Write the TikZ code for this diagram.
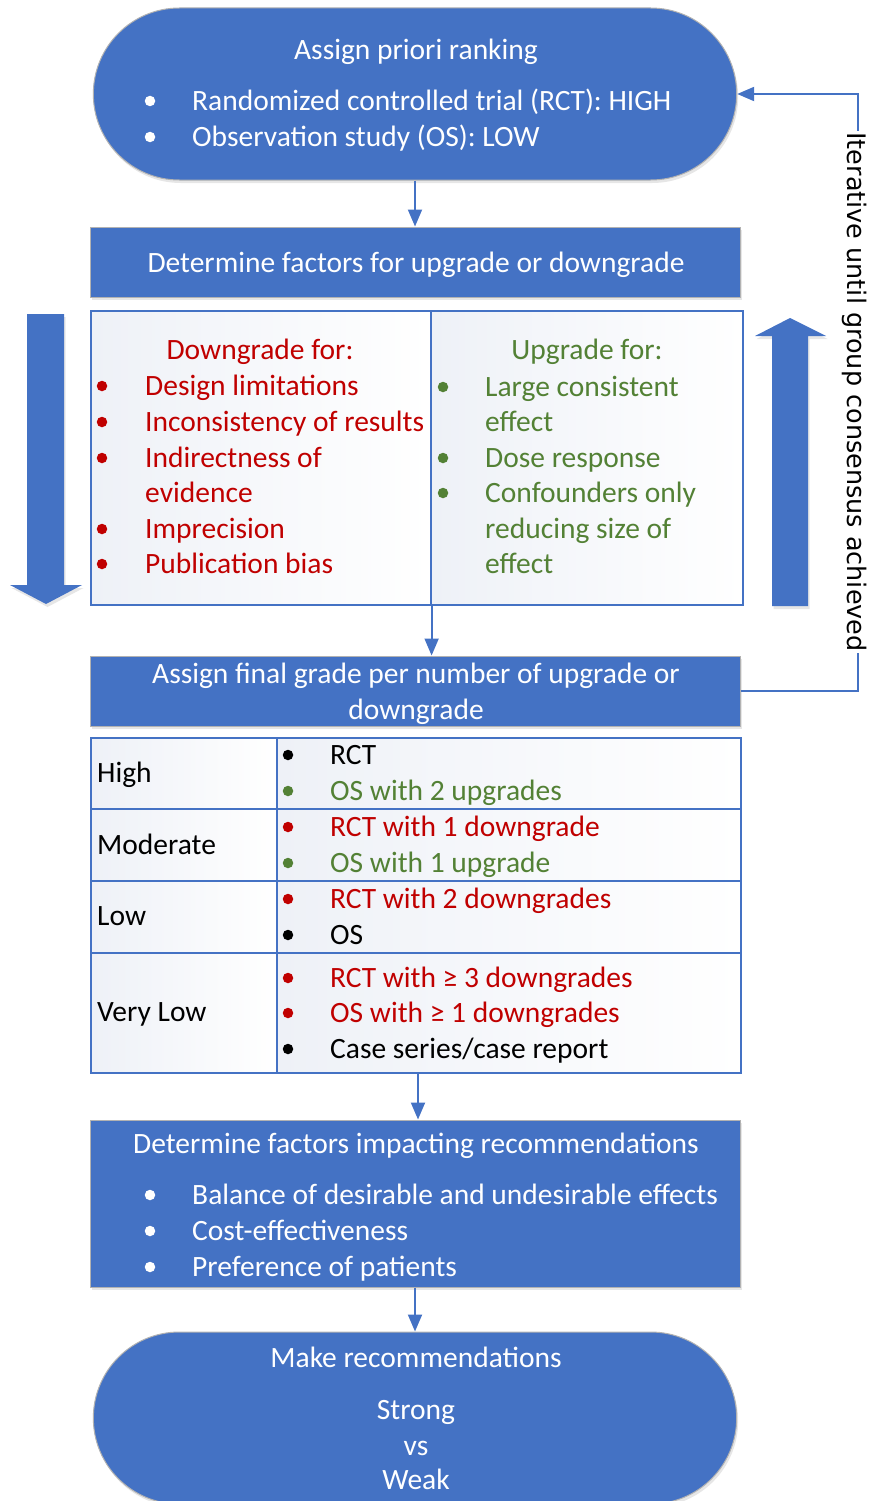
\documentclass[tikz,border=0pt]{standalone}
\usepackage{fontspec}
\setmainfont{Carlito}
\newfontfamily\vfont{DejaVu Sans}
\usetikzlibrary{shadows,arrows.meta,shapes.misc}
\definecolor{bblue}{HTML}{4472C4}
\definecolor{dred}{HTML}{C00000}
\definecolor{dgreen}{HTML}{538135}
\definecolor{cellgray}{RGB}{238,241,247}
\newcommand\bigf{\fontsize{29.5}{35}\selectfont}
\begin{document}
\begin{tikzpicture}[x=1pt,y=-1pt,
  bluebox/.style={draw=black!30, line width=1pt, fill=bblue,
    drop shadow={shadow xshift=1.5pt, shadow yshift=-3pt, opacity=0.2}},
  conn/.style={draw=bblue, line width=2pt, -{Triangle[length=17pt,width=14pt]}},
  cellbox/.style={draw=bblue, line width=1.6pt, left color=cellgray, right color=white},
  bul/.style={circle, fill=#1, inner sep=0pt, minimum size=10.5pt},
  txt/.style={anchor=mid west, inner sep=0pt, yshift=-7pt, font=\bigf, text=#1},
  ctxt/.style={anchor=mid, inner sep=0pt, yshift=-7pt, font=\bigf, text=#1},
  bigarrow/.style={fill=bblue, drop shadow={shadow xshift=1.5pt, shadow yshift=-3pt, opacity=0.2}}]
\useasboundingbox (0,0) rectangle (869,1501);

% ---------- top stadium ----------
\node[bluebox, rounded rectangle, minimum width=650pt, minimum height=172pt] (top) at (415,94) {};
\node[ctxt=white] (t0) at (416,50) {Assign priori ranking};
\node[bul=white] (tb1) at (150,101) {};
\node[txt=white] (t1) at (192,101) {Randomized controlled trial (RCT): HIGH};
\node[bul=white] (tb2) at (150,137) {};
\node[txt=white] (t2) at (192,137) {Observation study (OS): LOW};

% ---------- determine factors ----------
\node[bluebox, minimum width=650pt, minimum height=70pt] (det) at (415,262) {};
\node[ctxt=white] (d0) at (416,263) {Determine factors for upgrade or downgrade};

% ---------- up/down table ----------
\node[cellbox, minimum width=340pt, minimum height=294pt, anchor=north west] (down) at (90,310) {};
\node[cellbox, minimum width=312pt, minimum height=294pt, anchor=north west] (up) at (430,310) {};

\node[ctxt=dred] (dn0) at (260,350) {Downgrade for:};
\node[bul=dred] (dnb1) at (102,386) {};
\node[txt=dred] (dn1) at (145,386) {Design limitations};
\node[bul=dred] (dnb2) at (102,422) {};
\node[txt=dred] (dn2) at (145,422) {Inconsistency of results};
\node[bul=dred] (dnb3) at (102,458) {};
\node[txt=dred] (dn3) at (145,458) {Indirectness of};
\node[txt=dred] (dn3b) at (145,493) {evidence};
\node[bul=dred] (dnb4) at (102,529) {};
\node[txt=dred] (dn4) at (145,529) {Imprecision};
\node[bul=dred] (dnb5) at (102,564) {};
\node[txt=dred] (dn5) at (145,564) {Publication bias};

\node[ctxt=dgreen] (up0) at (587,350) {Upgrade for:};
\node[bul=dgreen] (upb1) at (443,387) {};
\node[txt=dgreen] (up1) at (485,387) {Large consistent};
\node[txt=dgreen] (up1b) at (485,422) {effect};
\node[bul=dgreen] (upb2) at (443,458) {};
\node[txt=dgreen] (up2) at (485,458) {Dose response};
\node[bul=dgreen] (upb3) at (443,493) {};
\node[txt=dgreen] (up3) at (485,493) {Confounders only};
\node[txt=dgreen] (up3b) at (485,529) {reducing size of};
\node[txt=dgreen] (up3c) at (485,564) {effect};

% big arrows
\path[bigarrow] (27,314) -- (64,314) -- (64,585) -- (82,585) -- (46,604) -- (10,585) -- (27,585) -- cycle;
\path[bigarrow] (772,606) -- (808,606) -- (808,336) -- (826,336) -- (790,318) -- (755,336) -- (772,336) -- cycle;

% ---------- final grade ----------
\node[bluebox, minimum width=650pt, minimum height=70pt] (fin) at (415,691) {};
\node[ctxt=white] (f1) at (416,674) {Assign final grade per number of upgrade or};
\node[ctxt=white] (f2) at (416,710) {downgrade};

% ---------- grade table ----------
\node[cellbox, minimum width=186pt, minimum height=71pt, anchor=north west] (hL) at (90,737) {};
\node[cellbox, minimum width=464pt, minimum height=71pt, anchor=north west] (hR) at (276,737) {};
\node[cellbox, minimum width=186pt, minimum height=72pt, anchor=north west] (mL) at (90,808) {};
\node[cellbox, minimum width=464pt, minimum height=72pt, anchor=north west] (mR) at (276,808) {};
\node[cellbox, minimum width=186pt, minimum height=72pt, anchor=north west] (lL) at (90,880) {};
\node[cellbox, minimum width=464pt, minimum height=72pt, anchor=north west] (lR) at (276,880) {};
\node[cellbox, minimum width=186pt, minimum height=120pt, anchor=north west] (vL) at (90,952) {};
\node[cellbox, minimum width=464pt, minimum height=120pt, anchor=north west] (vR) at (276,952) {};

\node[txt=black] (gh) at (97,773) {High};
\node[txt=black] (gm) at (97,845) {Moderate};
\node[txt=black] (gl) at (97,916) {Low};
\node[txt=black] (gv) at (97,1012) {Very Low};

\node[bul=black] (hb1) at (288,755) {};
\node[txt=black] (h1) at (330,755) {RCT};
\node[bul=dgreen] (hb2) at (288,791) {};
\node[txt=dgreen] (h2) at (330,791) {OS with 2 upgrades};
\node[bul=dred] (mb1) at (288,827) {};
\node[txt=dred] (m1) at (330,827) {RCT with 1 downgrade};
\node[bul=dgreen] (mb2) at (288,863) {};
\node[txt=dgreen] (m2) at (330,863) {OS with 1 upgrade};
\node[bul=dred] (lb1) at (288,899) {};
\node[txt=dred] (l1) at (330,899) {RCT with 2 downgrades};
\node[bul=black] (lb2) at (288,935) {};
\node[txt=black] (l2) at (330,935) {OS};
\node[bul=dred] (vb1) at (288,978) {};
\node[txt=dred] (v1) at (330,978) {RCT with ≥ 3 downgrades};
\node[bul=dred] (vb2) at (288,1013) {};
\node[txt=dred] (v2) at (330,1013) {OS with ≥ 1 downgrades};
\node[bul=black] (vb3) at (288,1049) {};
\node[txt=black] (v3) at (330,1049) {Case series/case report};

% ---------- impacting recommendations ----------
\node[bluebox, minimum width=650pt, minimum height=167pt] (imp) at (415,1203.5) {};
\node[ctxt=white] (i0) at (416,1144) {Determine factors impacting recommendations};
\node[bul=white] (ib1) at (150,1195) {};
\node[txt=white] (i1) at (192,1195) {Balance of desirable and undesirable effects};
\node[bul=white] (ib2) at (150,1231) {};
\node[txt=white] (i2) at (192,1231) {Cost-effectiveness};
\node[bul=white] (ib3) at (150,1267) {};
\node[txt=white] (i3) at (192,1267) {Preference of patients};

% ---------- bottom stadium ----------
\node[bluebox, rounded rectangle, minimum width=650pt, minimum height=172pt] (rec) at (415,1418) {};
\node[ctxt=white] (r0) at (416,1358) {Make recommendations};
\node[ctxt=white] (r1) at (416,1410) {Strong};
\node[ctxt=white] (r2) at (416,1446) {vs};
\node[ctxt=white] (r3) at (416,1480) {Weak};

% ---------- connectors ----------
\draw[conn] (top.south) -- (det.north);
\draw[conn] (down.south east) -- (down.south east |- fin.north);
\coordinate (g3) at (418,1073);
\draw[conn] (g3) -- (g3 |- imp.north);
\draw[conn] (imp.south) -- (rec.north);
\coordinate (lp) at (858,400);
\draw[conn] (fin.east) -| (lp) |- (top.east);
\node[fill=white, inner sep=1pt, rotate=-90, font=\vfont\fontsize{25.5}{30}\selectfont] (iter) at (855,392) {Iterative until group consensus achieved};
\end{tikzpicture}
\end{document}
